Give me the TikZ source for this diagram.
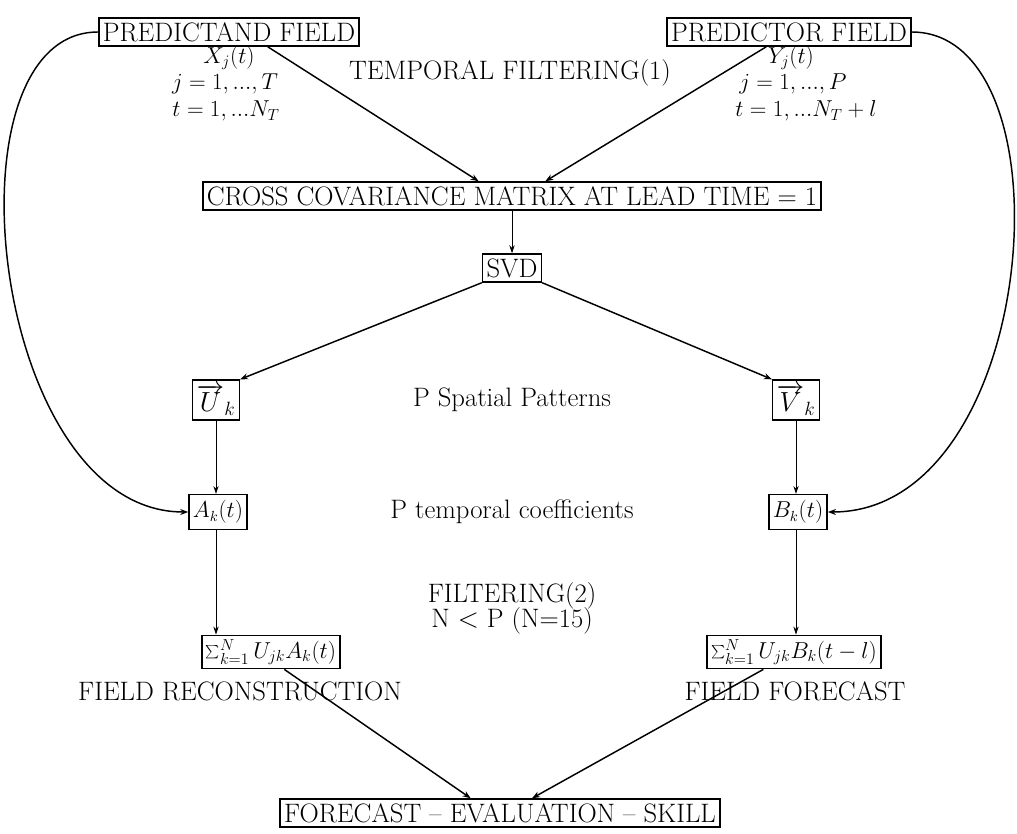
\documentclass[tikz,border=0pt]{standalone}
\usetikzlibrary{arrows.meta}
\begin{document}
\begin{tikzpicture}[x=0.75pt,y=-0.75pt,
  every node/.style={font=\fontsize{20}{22}\selectfont, inner sep=0pt},
  mathlab/.style={font=\fontsize{17}{19}\selectfont},
  box/.style={draw, line width=1.1pt, inner xsep=3pt, inner ysep=2pt, minimum height=21pt},
  arr/.style={line width=1.1pt, -{Stealth[length=6pt,width=4.5pt]}},
  thin arr/.style={line width=0.7pt, -{Stealth[length=6pt,width=4pt]}}]
\useasboundingbox (0,0) rectangle (1017,834);
% boxes
\node[box] (pl) at (229,32) {PREDICTAND FIELD};
\node[box] (pr) at (789,32) {PREDICTOR FIELD};
\node[box] (cc) at (512,196) {CROSS COVARIANCE MATRIX AT LEAD TIME = 1};
\node[box] (svd) at (512,268) {SVD};
\node[box, inner ysep=3pt] (U) at (216,400) {$\overrightarrow{U}_{k}$};
\node[box, inner ysep=3pt] (V) at (796,400) {$\overrightarrow{V}_{k}$};
\node[box, font=\fontsize{16}{18}\selectfont, minimum height=26pt] (A) at (218,512) {$A_k(t)$};
\node[box, font=\fontsize{16}{18}\selectfont, minimum height=26pt] (B) at (798,512) {$B_k(t)$};
\node[box, font=\fontsize{18}{20}\selectfont, minimum height=25pt] (sl) at (271,652) {$\sum_{k=1}^{N} U_{jk}A_k(t)$};
\node[box, font=\fontsize{18}{20}\selectfont, minimum height=25pt] (sr) at (794,652) {$\sum_{k=1}^{N} U_{jk}B_k(t-l)$};
\node[box] (fes) at (500,813) {FORECAST -- EVALUATION -- SKILL};
% labels
\node[mathlab] (x1) at (229,58) {$X_j(t)$};
\node[mathlab] (x2) at (225,84) {$j=1,...,T$};
\node[mathlab] (x3) at (226,111) {$t=1,...N_T$};
\node[mathlab] (y1) at (791,58) {$Y_j(t)$};
\node[mathlab] (y2) at (793,84) {$j=1,...,P$};
\node[mathlab] (y3) at (806,111) {$t=1,...N_T+l$};
\node (tf) at (510,73) {TEMPORAL FILTERING(1)};
\node (sp) at (512,400) {P Spatial Patterns};
\node (tc) at (512,512) {P temporal coefficients};
\node (f2) at (512,596) {FILTERING(2)};
\node (np) at (512,621) {N $<$ P (N=15)};
\node (fr) at (240,691) {FIELD RECONSTRUCTION};
\node (ff) at (795,691) {FIELD FORECAST};
% connectors
\draw[arr] ([xshift=29pt]pl.south) -- ([xshift=-25pt]cc.north);
\draw[arr] ([xshift=-17pt]pr.south) -- ([xshift=25pt]cc.north);
\draw[thin arr] (cc) -- (svd);
\draw[arr] (svd.south west) -- (U.north east);
\draw[arr] (svd.south east) -- (V.north west);
\draw[thin arr] (U) -- (U |- A.north);
\draw[thin arr] (V) -- (V |- B.north);
\draw[thin arr] (A.south -| U) -- (U |- sl.north);
\draw[thin arr] (B.south -| V) -- (V |- sr.north);
\draw[arr] ([xshift=10pt]sl.south) -- ([xshift=-22pt]fes.north);
\draw[arr] ([xshift=-23pt]sr.south) -- ([xshift=24pt]fes.north);
\draw[arr] (pl.west) .. controls (-60,32) and (-10,512) .. (A.west);
\draw[arr] (pr.east) .. controls (1075,32) and (1040,512) .. (B.east);
\end{tikzpicture}
\end{document}
